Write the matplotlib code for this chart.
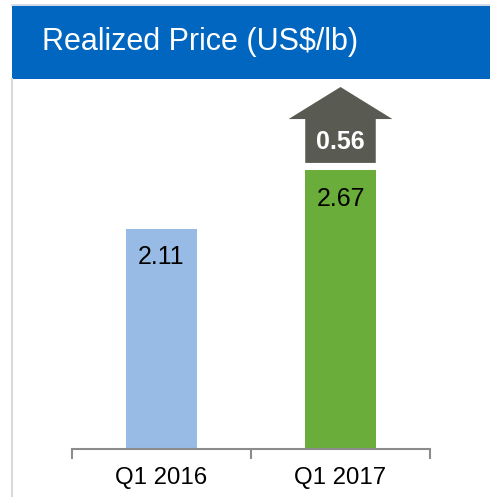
import matplotlib
matplotlib.use("Agg")
import matplotlib.pyplot as plt
from matplotlib.patches import Rectangle, Polygon
from matplotlib.lines import Line2D

plt.rcParams['font.family'] = ['Liberation Sans', 'DejaVu Sans']

title = "Realized Price (US$/lb)"
categories = ["Q1 2016", "Q1 2017"]
values = [2.11, 2.67]
change_label = "0.56"
bar_colors = ["#98BBE6", "#6AAD3B"]

W, H = 490, 498
fig = plt.figure(figsize=(W / 100, H / 100), dpi=100)

def px_rect(x0, y0, x1, y1):
    # pixel coordinates (top-left origin) -> figure fraction [l, b, w, h]
    return [x0 / W, 1 - y1 / H, (x1 - x0) / W, (y1 - y0) / H]

# banner
l, b, w, h = px_rect(12, 6, 490, 79)
fig.patches.append(Rectangle((l, b), w, h, transform=fig.transFigure,
                             facecolor="#0066BF", edgecolor="none", zorder=0))
fig.lines.append(Line2D([12 / W, 1], [1 - 5.5 / H, 1 - 5.5 / H], transform=fig.transFigure,
                        color="#C8D3E0", lw=1.2))
fig.lines.append(Line2D([11.5 / W, 11.5 / W], [1 - 79 / H, 1 - 496 / H], transform=fig.transFigure,
                        color="#D9D9D9", lw=1.5))
fig.text(42 / W, 1 - 42 / H, title, color="white", fontsize=22, va="center", ha="left")

# axes
ax = fig.add_axes(px_rect(72, 87, 430, 449))
x = list(range(len(categories)))
ax.bar(x, values, width=0.40, color=bar_colors, zorder=2)
ax.set_xlim(-0.5, len(categories) - 0.5)
ax.set_ylim(0, 3.467)

for xi, v in zip(x, values):
    ax.text(xi, v - 0.275, f"{v:.2f}", ha="center", va="center", fontsize=18, color="black")

# change arrow above last bar
xc = x[-1]
vtop = values[-1]
body_bottom = vtop + 0.07
shoulder = vtop + 0.49
tip = vtop + 0.797
bw, hw = 0.197, 0.29
arrow = Polygon([(xc - bw, body_bottom), (xc + bw, body_bottom), (xc + bw, shoulder),
                 (xc + hw, shoulder), (xc, tip), (xc - hw, shoulder), (xc - bw, shoulder)],
                closed=True, facecolor="#595A52", edgecolor="none", zorder=3, clip_on=False)
ax.add_patch(arrow)
ax.text(xc, (body_bottom + shoulder) / 2 - 0.01, change_label, ha="center", va="center",
        fontsize=18, fontweight="bold", color="white", zorder=4)

for s in ["top", "right", "left"]:
    ax.spines[s].set_visible(False)
ax.spines["bottom"].set_color("#8C8C8C")
ax.spines["bottom"].set_linewidth(1.5)
ax.set_yticks([])
ax.set_xticks(x)
ax.set_xticklabels(categories, fontsize=17.3)
ax.tick_params(axis="x", which="major", length=0, pad=13)
ax.set_xticks([i - 0.5 for i in range(len(categories) + 1)], minor=True)
ax.tick_params(axis="x", which="minor", length=7, width=1.5, color="#8C8C8C")
ax.set_facecolor("none")

fig.savefig("out.png", dpi=100)
